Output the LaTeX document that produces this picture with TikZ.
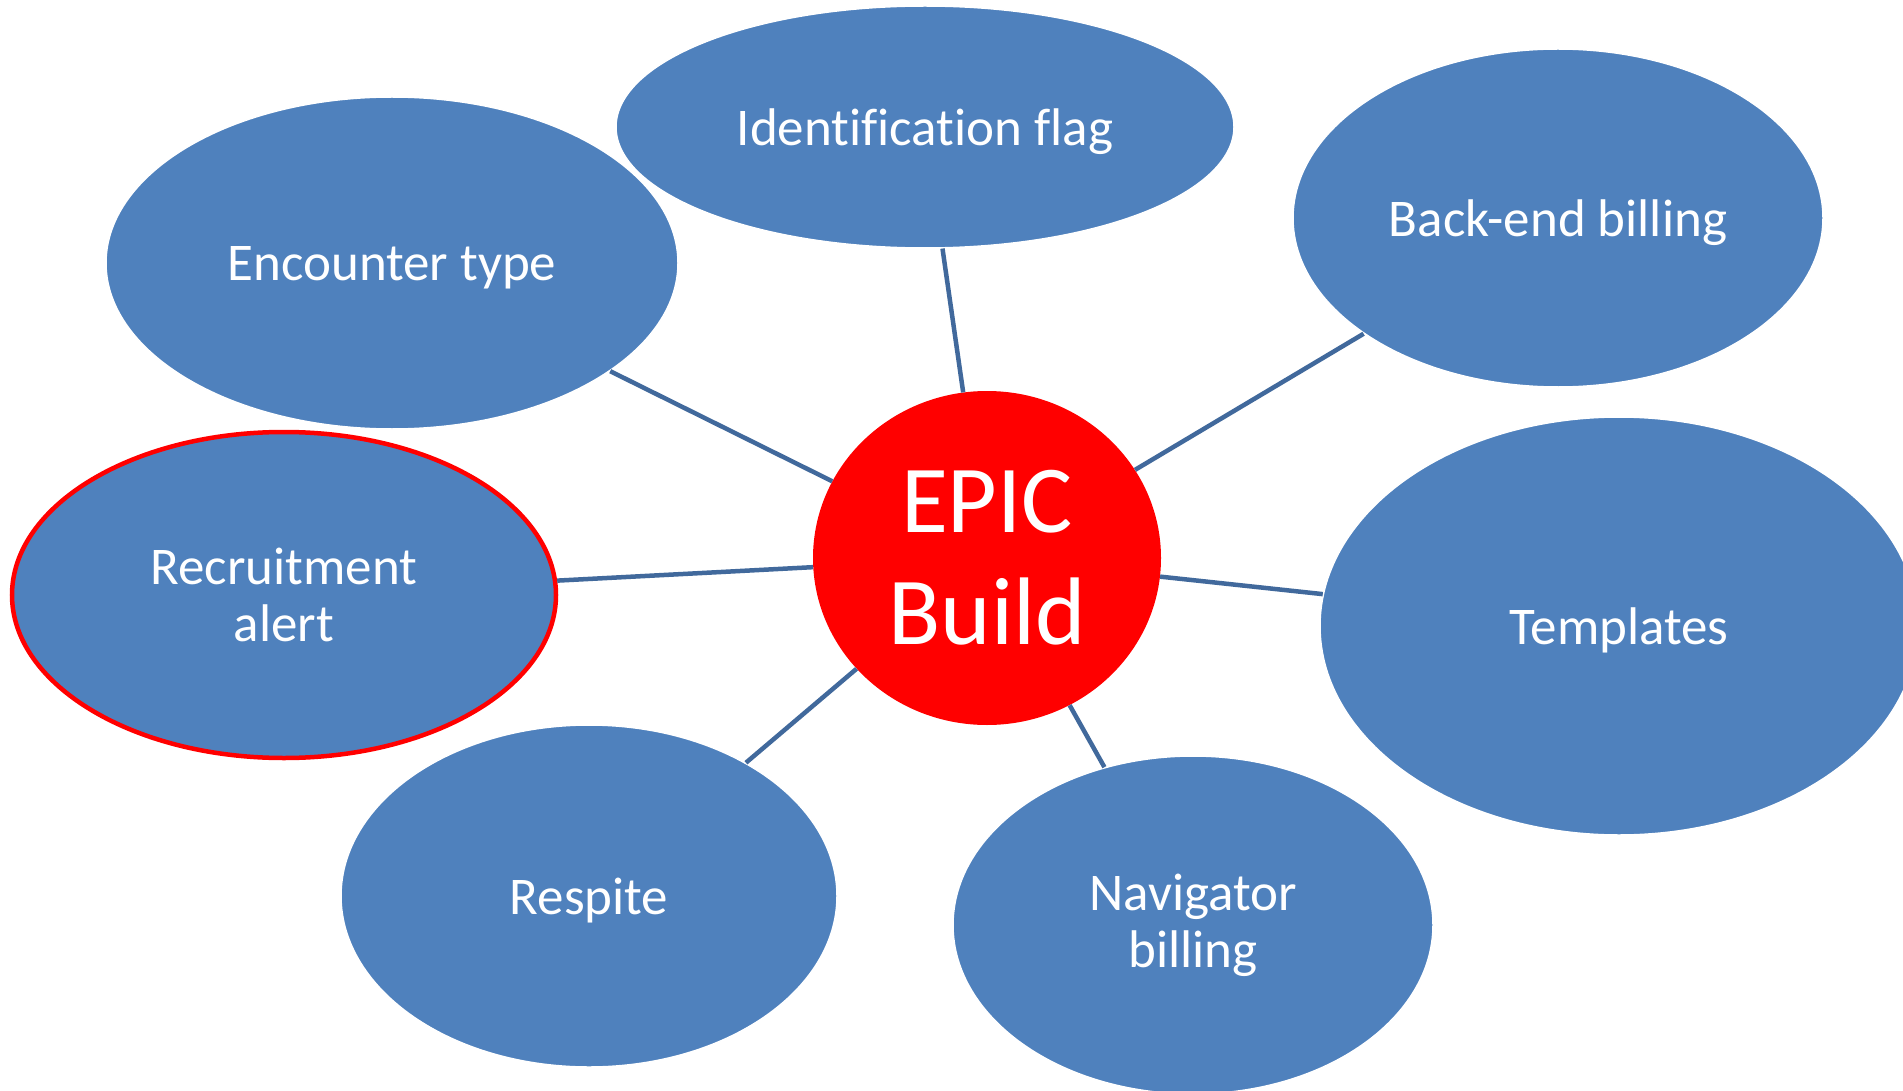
\documentclass[tikz,border=0pt]{standalone}
\usepackage{fontspec}
\setmainfont{Carlito}[Ligatures=NoCommon]
\usetikzlibrary{shapes.geometric}
\definecolor{bubble}{HTML}{4F81BD}
\definecolor{link}{HTML}{41699C}
\definecolor{hub}{HTML}{FF0000}
\begin{document}
\begin{tikzpicture}[x=1pt,y=-1pt,
  bub/.style={ellipse,fill=bubble,draw=white,line width=1.5pt,inner sep=0pt,
    text=white,align=center,font=\fontsize{53}{57}\selectfont},
  one/.style={text depth=0pt},
  hubnode/.style={ellipse,fill=hub,draw=none,inner sep=0pt,text=white,align=center,
    font=\fontsize{96}{112}\selectfont},
  conn/.style={draw=link,line width=4.5pt}]
\clip (0,0) rectangle (1903,1091);
\fill[white] (0,0) rectangle (1903,1091);
\node[bub,one,minimum width=572pt,minimum height=332pt] (enc) at (392,263) {Encounter type};
\node[bub,one,minimum width=618pt,minimum height=242pt] (idf) at (925,127) {Identification flag};
\node[bub,one,minimum width=530pt,minimum height=338pt] (back) at (1558,218) {Back-end billing};
\node[bub,one,minimum width=598pt,minimum height=418pt] (tmpl) at (1619,626) {Templates};
\node[bub,draw=hub,line width=4.5pt,minimum width=544pt,minimum height=326pt] (recr) at (284,595) {Recruitment\\alert};
\node[bub,one,minimum width=496pt,minimum height=342pt] (resp) at (589,896) {Respite};
\node[bub,minimum width=480pt,minimum height=338pt] (nav) at (1193,925) {Navigator\\billing};
\node[hubnode,minimum width=348pt,minimum height=334pt] (epic) at (987,558) {EPIC\\Build};
\draw[conn] (enc) -- (epic);
\draw[conn] (idf) -- (epic);
\draw[conn] (back) -- (epic);
\draw[conn] (tmpl) -- (epic);
\draw[conn] (nav) -- (epic);
\draw[conn] (resp) -- (epic);
\draw[conn] (recr) -- (epic);
\end{tikzpicture}
\end{document}
